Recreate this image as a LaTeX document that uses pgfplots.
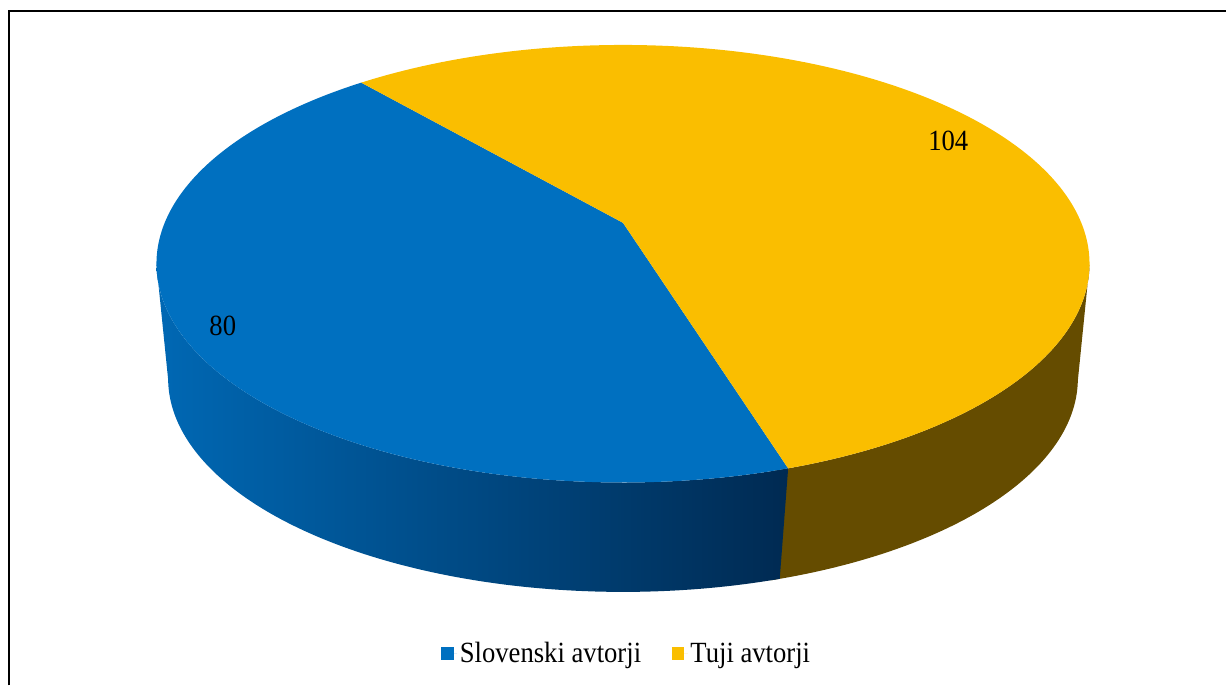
\documentclass[border=0pt]{standalone}
\usepackage{fontspec}
\setmainfont{Liberation Serif}
\usepackage{graphicx}
\usepackage{pgfplots}
\pgfplotsset{compat=1.18}
\definecolor{cblue}{RGB}{0,112,192}
\definecolor{cyel}{RGB}{250,190,0}
\definecolor{sideL}{RGB}{0,104,180}
\definecolor{sideR}{RGB}{0,42,82}
\definecolor{sideY}{RGB}{101,76,0}
% data
\def\valA{80}   % Slovenski avtorji
\def\valB{104}  % Tuji avtorji
\pgfmathsetmacro{\tA}{130.7}
\pgfmathsetmacro{\fracA}{\valA/(\valA+\valB)}
\pgfmathsetmacro{\tB}{\tA+360*\fracA}
\pgfmathsetmacro{\tBo}{\tB-1.5}
\pgfmathsetmacro{\tC}{\tA+360}
\def\tL{191}
\def\tR{349}
\begin{document}
\begin{tikzpicture}
\begin{axis}[
  width=920.25pt, height=514.5pt, scale only axis,
  xmin=0, xmax=1227, ymin=0, ymax=686,
  hide axis, clip=false,
  declare function={
    TX(\t)=623.5+458.7*cos(\t)/(1+0.187*sin(\t));
    TY(\t)=463+211.3*sin(\t)/(1+0.187*sin(\t));
    BX(\t)=623.5+447.2*cos(\t)/(1+0.187*sin(\t));
    BY(\t)=347+206.0*sin(\t)/(1+0.187*sin(\t));
    SX(\s,\a,\b)=ifthenelse(\s<=1, TX(\a+(\b-\a)*\s), BX(\b-(\b-\a)*(\s-1)));
    SY(\s,\a,\b)=ifthenelse(\s<=1, TY(\a+(\b-\a)*\s), BY(\b-(\b-\a)*(\s-1)));
  },
  legend columns=2,
  legend style={at={(axis cs:627.5,32)}, anchor=center, draw=none, fill=none,
    font=\fontsize{20}{24}\selectfont,
    /tikz/every even column/.append style={column sep=21pt}},
  legend image code/.code={\path (0pt,0pt) -- (12pt,0pt);\fill[#1] (0pt,-4.7pt) rectangle (9.5pt,4.7pt);},
]
\path (axis cs:0,0) rectangle (axis cs:1227,686);
% sides
\addplot[forget plot, draw=none, fill=sideY,
  domain=0:2, samples=301, variable=\s]
  ({SX(\s,\tBo,\tR)},{SY(\s,\tBo,\tR)}) -- cycle;
\addplot[forget plot, draw=none, left color=sideL, right color=sideR,
  domain=0:2, samples=401, variable=\s]
  ({SX(\s,\tL,\tB)},{SY(\s,\tL,\tB)}) -- cycle;
% top faces
\addplot[fill=cblue, draw=none, domain=\tA:\tB, samples=160]
  ({TX(x)},{TY(x)}) -- (axis cs:623.5,463) -- cycle;
\addlegendentry{\scalebox{1}[1.1]{Slovenski avtorji}}
\addplot[fill=cyel, draw=none, domain=\tB:\tC, samples=200]
  ({TX(x)},{TY(x)}) -- (axis cs:623.5,463) -- cycle;
\addlegendentry{\scalebox{1}[1.1]{Tuji avtorji}}
% frame
\addplot[forget plot, black, line width=1.5pt] coordinates {(9,0) (9,675) (1227,675)};
% labels
\node[font=\fontsize{20}{24}\selectfont] at (axis cs:223,359.6) {\scalebox{1}[1.1]{80}};
\node[font=\fontsize{20}{24}\selectfont] at (axis cs:949,544.7) {\scalebox{1}[1.1]{104}};
\end{axis}
\end{tikzpicture}
\end{document}
